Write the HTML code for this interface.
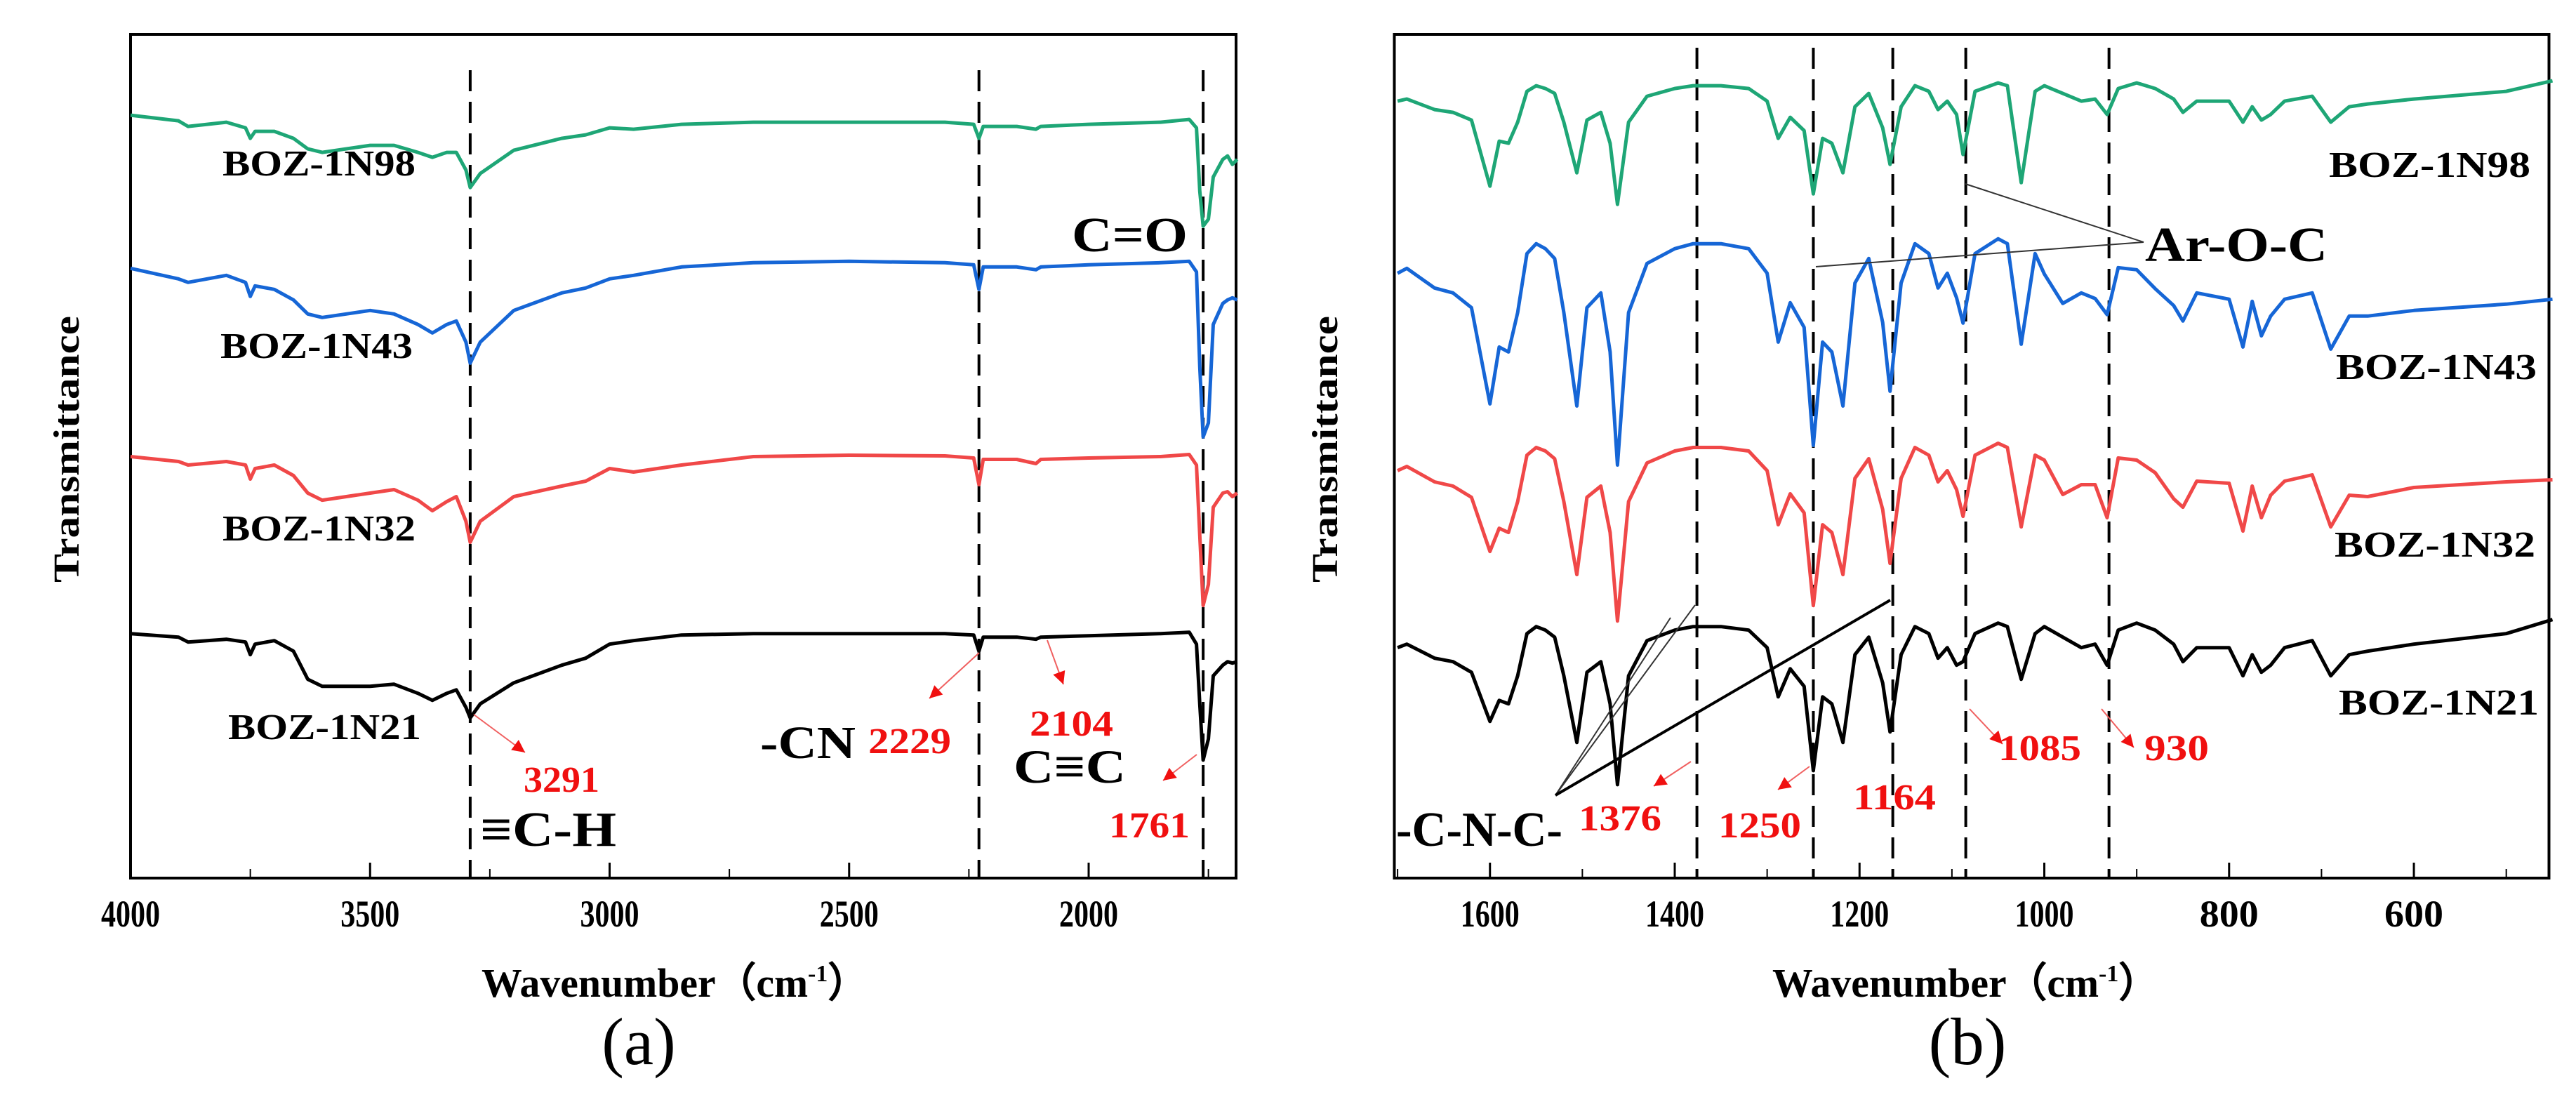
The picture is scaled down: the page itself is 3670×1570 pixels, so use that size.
<!DOCTYPE html>
<html><head><meta charset="utf-8"><style>
html,body{margin:0;padding:0;background:#fff;overflow:hidden;}
svg{display:block;}
text{font-family:"Liberation Serif",serif;}
.b{font-weight:bold;}
</style></head><body>
<svg id="fig" width="3670" height="1570" viewBox="0 0 3670 1570" xmlns="http://www.w3.org/2000/svg">
<g id="panelA">
  <rect x="186" y="49" width="1575" height="1202" fill="none" stroke="#000" stroke-width="4"/>
  <g id="ticksA"></g>
  <g id="dashA"></g>
  <g id="seriesA"></g>
  <text x="317" y="250" font-size="52" textLength="275" lengthAdjust="spacingAndGlyphs" class="b">BOZ-1N98</text>
  <text x="314" y="510" font-size="52" textLength="274" lengthAdjust="spacingAndGlyphs" class="b">BOZ-1N43</text>
  <text x="317" y="770" font-size="52" textLength="275" lengthAdjust="spacingAndGlyphs" class="b">BOZ-1N32</text>
  <text x="325" y="1053" font-size="52" textLength="275" lengthAdjust="spacingAndGlyphs" class="b">BOZ-1N21</text>
  <text x="1527" y="358" font-size="70" textLength="165" lengthAdjust="spacingAndGlyphs" class="b">C=O</text>
  <text x="746" y="1128" font-size="52" textLength="108" lengthAdjust="spacingAndGlyphs" class="b" fill="#f01010">3291</text>
  <text x="684" y="1205" font-size="70" textLength="194" lengthAdjust="spacingAndGlyphs" class="b">≡C-H</text>
  <text x="1083" y="1080" font-size="66" textLength="136" lengthAdjust="spacingAndGlyphs" class="b">-CN</text>
  <text x="1237" y="1073" font-size="52" textLength="118" lengthAdjust="spacingAndGlyphs" class="b" fill="#f01010">2229</text>
  <text x="1467" y="1048" font-size="52" textLength="119" lengthAdjust="spacingAndGlyphs" class="b" fill="#f01010">2104</text>
  <text x="1444" y="1115" font-size="68" textLength="160" lengthAdjust="spacingAndGlyphs" class="b">C≡C</text>
  <text x="1580" y="1193" font-size="52" textLength="115" lengthAdjust="spacingAndGlyphs" class="b" fill="#f01010">1761</text>
  <text x="686" y="1420" font-size="58" textLength="551" lengthAdjust="spacingAndGlyphs" class="b">Wavenumber（cm<tspan font-size="34" dy="-22">-1</tspan><tspan dy="22">）</tspan></text>
  <text transform="translate(112,640) rotate(-90)" x="-190" y="0" font-size="52" textLength="380" lengthAdjust="spacingAndGlyphs" class="b">Transmittance</text>
  <text x="910" y="1516" text-anchor="middle" font-size="95">(a)</text>
</g>
<g id="panelB">
  <rect x="1986.5" y="49" width="1645" height="1202" fill="none" stroke="#000" stroke-width="4"/>
  <g id="ticksB"></g>
  <g id="dashB"></g>
  <g id="seriesB"></g>
  <text x="3318" y="252" font-size="52" textLength="287" lengthAdjust="spacingAndGlyphs" class="b">BOZ-1N98</text>
  <text x="3328" y="540" font-size="52" textLength="286" lengthAdjust="spacingAndGlyphs" class="b">BOZ-1N43</text>
  <text x="3326" y="793" font-size="52" textLength="286" lengthAdjust="spacingAndGlyphs" class="b">BOZ-1N32</text>
  <text x="3332" y="1018" font-size="52" textLength="285" lengthAdjust="spacingAndGlyphs" class="b">BOZ-1N21</text>
  <line x1="3054" y1="345" x2="2800" y2="262" stroke="#333" stroke-width="2"/>
  <line x1="3054" y1="345" x2="2587" y2="380" stroke="#333" stroke-width="2"/>
  <text x="3056" y="372" font-size="70" textLength="260" lengthAdjust="spacingAndGlyphs" class="b">Ar-O-C</text>
  <line x1="2216" y1="1133" x2="2415" y2="862" stroke="#333" stroke-width="2"/>
  <line x1="2216" y1="1133" x2="2380" y2="880" stroke="#333" stroke-width="2"/>
  <line x1="2216" y1="1133" x2="2693" y2="855" stroke="#000" stroke-width="4"/>
  <text x="1989" y="1205" font-size="70" textLength="237" lengthAdjust="spacingAndGlyphs" class="b">-C-N-C-</text>
  <text x="2249" y="1183" font-size="52" textLength="118" lengthAdjust="spacingAndGlyphs" class="b" fill="#f01010">1376</text>
  <text x="2448" y="1193" font-size="52" textLength="118" lengthAdjust="spacingAndGlyphs" class="b" fill="#f01010">1250</text>
  <text x="2640" y="1153" font-size="52" textLength="118" lengthAdjust="spacingAndGlyphs" class="b" fill="#f01010">1164</text>
  <text x="2847" y="1083" font-size="52" textLength="118" lengthAdjust="spacingAndGlyphs" class="b" fill="#f01010">1085</text>
  <text x="3055" y="1083" font-size="52" textLength="92" lengthAdjust="spacingAndGlyphs" class="b" fill="#f01010">930</text>
  <text x="2525" y="1420" font-size="58" textLength="551" lengthAdjust="spacingAndGlyphs" class="b">Wavenumber（cm<tspan font-size="34" dy="-22">-1</tspan><tspan dy="22">）</tspan></text>
  <text transform="translate(1905,640) rotate(-90)" x="-190" y="0" font-size="52" textLength="380" lengthAdjust="spacingAndGlyphs" class="b">Transmittance</text>
  <text x="2803" y="1516" text-anchor="middle" font-size="95">(b)</text>
</g>
<g id="arrows"></g>
</svg>
<script>
// Panel (a) data
const wnA = [4000,3900,3880,3800,3760,3750,3740,3700,3660,3630,3600,3500,3450,3400,3370,3340,3320,3300,3291,3270,3200,3100,3050,3000,2950,2850,2700,2500,2300,2240,2229,2220,2150,2110,2100,2000,1850,1790,1775,1768,1761,1750,1740,1720,1710,1700,1690];
const a1N21 = [348,343,336,340,336,318,333,338,323,283,273,273,276,263,253,263,268,243,228,248,278,303,313,333,338,346,348,348,348,346,323,343,343,340,343,345,348,350,333,248,168,198,288,303,308,306,308];
const a1N32 = [600,593,588,593,588,568,583,588,573,548,538,548,553,538,523,536,543,508,478,508,543,558,565,583,578,588,600,602,601,598,560,596,596,590,596,598,600,603,588,488,388,418,528,548,550,543,548];
const a1N43 = [868,853,848,858,848,828,843,838,823,803,798,808,803,788,776,788,793,763,733,763,808,833,840,853,858,870,876,878,876,873,838,870,870,866,870,873,876,878,863,728,628,648,788,818,823,826,823];
const a1N98 = [1086,1078,1070,1076,1068,1053,1063,1063,1053,1038,1033,1043,1043,1033,1026,1033,1033,1008,983,1003,1036,1053,1058,1068,1066,1073,1076,1076,1076,1073,1053,1070,1070,1066,1070,1073,1076,1080,1068,978,928,938,998,1023,1028,1016,1023];
const ticksA = [4000,3500,3000,2500,2000];
const guidesA = [3291,2229,1761];
// Panel (b) data
const wnB = [1700,1690,1660,1640,1620,1600,1590,1580,1570,1560,1550,1540,1530,1520,1506,1495,1480,1470,1462,1450,1430,1400,1380,1350,1320,1300,1288,1275,1260,1250,1240,1230,1218,1205,1190,1175,1167,1155,1140,1125,1115,1105,1095,1088,1075,1050,1040,1025,1010,1000,980,960,945,932,920,900,880,860,850,835,800,785,775,765,755,740,710,690,670,650,600,500,450];
const b1N21 = [328,333,313,308,293,223,253,248,288,348,358,353,343,288,193,293,308,248,133,288,338,353,358,358,353,328,258,298,273,153,258,248,193,318,343,278,208,318,358,348,313,328,303,308,348,363,358,283,348,358,343,328,333,303,353,363,353,333,308,328,328,288,318,293,303,328,338,288,318,323,333,348,368];
const b1N32 = [580,586,564,558,542,465,498,492,536,602,613,608,597,536,432,542,558,492,366,536,591,608,613,613,608,580,503,547,520,388,503,492,432,569,597,525,448,569,613,602,564,580,553,515,602,619,613,500,602,595,546,560,560,513,598,595,577,540,528,565,562,494,558,513,545,565,574,500,545,543,556,564,567];
const b1N43 = [861,868,840,833,812,675,756,749,805,889,903,896,882,805,672,812,833,749,588,805,875,896,903,903,896,861,763,819,784,616,763,749,672,847,882,791,693,847,903,889,840,861,826,790,889,910,903,760,889,860,818,833,825,802,869,866,839,815,793,833,824,756,821,772,800,824,833,753,800,800,808,817,824];
const b1N98 = [1106,1109,1094,1090,1079,985,1049,1046,1076,1120,1128,1124,1117,1076,1004,1079,1090,1046,959,1076,1113,1124,1128,1128,1124,1106,1053,1083,1064,974,1053,1046,1004,1098,1117,1068,1016,1098,1128,1120,1094,1106,1087,1030,1120,1132,1128,990,1120,1128,1117,1106,1109,1087,1124,1132,1124,1109,1090,1106,1106,1076,1098,1079,1087,1106,1113,1076,1098,1102,1109,1120,1135];
const ticksB = [1600,1400,1200,1000,800,600];
const guidesB = [1376,1250,1164,1085,930];

const NS = "http://www.w3.org/2000/svg";
function xA(w){ return 186 + (4000 - w) * 0.6825; }
function xB(w){ return 1986.5 + (1703.5 - w) * 1.3163; }
function yV(v){ return 1251 - v * (1202 / 1201); }
function mk(tag, attrs, parent){ const e = document.createElementNS(NS, tag); for (const k in attrs) e.setAttribute(k, attrs[k]); parent.appendChild(e); return e; }

function drawSeries(g, xs, ys, xf, color, name){
  let d = "";
  for (let i = 0; i < xs.length; i++) d += (i ? "L" : "M") + xf(xs[i]).toFixed(1) + "," + yV(ys[i]).toFixed(1);
  const p = mk("path", {d: d, fill: "none", stroke: color, "stroke-width": 5, "stroke-linejoin": "round"}, g);
  
  
}
function drawTicks(g, ticks, xf, minorStep, lo, hi){
  ticks.forEach(t => {
    const x = xf(t);
    const l = mk("line", {x1: x, x2: x, y1: 1251, y2: 1229, stroke: "#000", "stroke-width": 3}, g);
    
    
    const tx = mk("text", {x: x - 42, y: 1320, "font-size": 54, "font-weight": "bold", textLength: 84, lengthAdjust: "spacingAndGlyphs"}, g);
    tx.textContent = t;
    
    
  });
  for (let m = lo; m >= hi; m -= minorStep) {
    const x = xf(m);
    const l = mk("line", {x1: x, x2: x, y1: 1251, y2: 1238, stroke: "#000", "stroke-width": 2}, g);
    
    
  }
}
function drawGuides(g, guides, xf, top){
  guides.forEach(w => {
    const l = mk("line", {x1: xf(w), x2: xf(w), y1: top, y2: 1251, stroke: "#000", "stroke-width": 4, "stroke-dasharray": "30 15"}, g);
    
    
  });
}

drawTicks(document.getElementById("ticksA"), ticksA, xA, 250, 3750, 1750);
drawTicks(document.getElementById("ticksB"), ticksB, xB, 100, 1700, 500);
drawGuides(document.getElementById("dashA"), guidesA, xA, 100);
drawGuides(document.getElementById("dashB"), guidesB, xB, 68);

const gA = document.getElementById("seriesA");
drawSeries(gA, wnA, a1N98, xA, "#1ea676", "series-boz-1n98-a");
drawSeries(gA, wnA, a1N43, xA, "#1666d6", "series-boz-1n43-a");
drawSeries(gA, wnA, a1N32, xA, "#f04848", "series-boz-1n32-a");
drawSeries(gA, wnA, a1N21, xA, "#000000", "series-boz-1n21-a");
const gB = document.getElementById("seriesB");
drawSeries(gB, wnB, b1N98, xB, "#1ea676", "series-boz-1n98-b");
drawSeries(gB, wnB, b1N43, xB, "#1666d6", "series-boz-1n43-b");
drawSeries(gB, wnB, b1N32, xB, "#f04848", "series-boz-1n32-b");
drawSeries(gB, wnB, b1N21, xB, "#000000", "series-boz-1n21-b");

// red annotation arrows
const arrowG = document.getElementById("arrows");
const arrowSegs = [[675,1018,748,1072],[1395,930,1324,995],[1492,912,1515,975],[1705,1075,1657,1112],
  [2409,1085,2356,1120],[2578,1092,2533,1125],[2806,1010,2853,1060],[2994,1010,3040,1065]];
arrowSegs.forEach(s => {
  const [x1,y1,x2,y2] = s;
  const ln = mk("line", {x1:x1,y1:y1,x2:x2,y2:y2,stroke:"#f06060","stroke-width":2}, arrowG);
  
  
  const a = Math.atan2(y2-y1, x2-x1), L = 18, W = 9;
  const bx = x2 - L*Math.cos(a), by = y2 - L*Math.sin(a);
  const pts = `${x2},${y2} ${bx + W*Math.sin(a)},${by - W*Math.cos(a)} ${bx - W*Math.sin(a)},${by + W*Math.cos(a)}`;
  const hd = mk("polygon", {points: pts, fill: "#f01010"}, arrowG);
  
  
});
</script>
</body></html>
